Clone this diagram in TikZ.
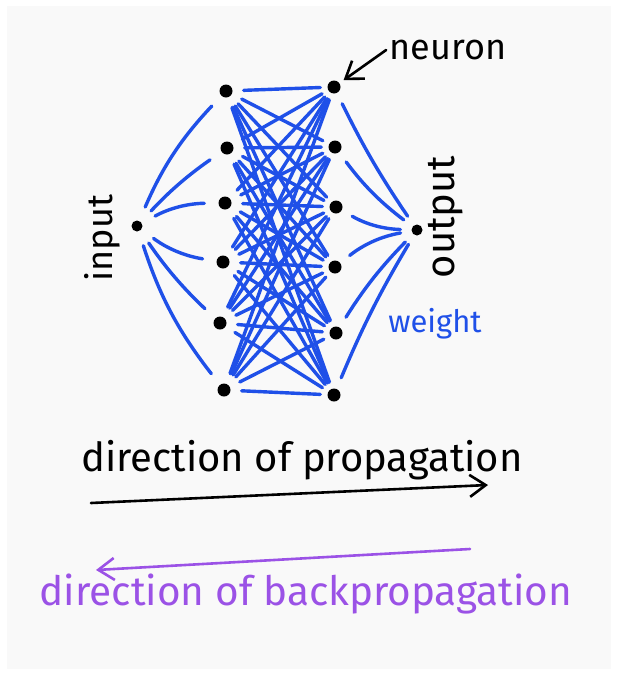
\documentclass[tikz,border=0pt]{standalone}
\usepackage{fontspec}
\setmainfont{Fira Sans}
\usetikzlibrary{arrows.meta,positioning}
\definecolor{pen}{RGB}{31,80,232}
\definecolor{backpen}{RGB}{155,82,230}
\definecolor{paper}{RGB}{249,249,249}
\newcommand{\handsize}[1]{\fontsize{#1}{#1}\selectfont}
\tikzset{
  neuron/.style={circle,fill=black,inner sep=0pt,minimum size=13pt},
  weight/.style={pen,line width=3.4pt,line cap=round},
  barb/.style={-{Straight Barb[length=16pt,width=22pt,line width=2.6pt]},line width=2.6pt,line cap=round}
}

\begin{document}
\begin{tikzpicture}[x=1pt,y=-1pt]

  % the sheet
  \useasboundingbox (0,0) rectangle (617,675);
  \fill[paper] (7,6) rectangle (611,669);

  % Input and output neurons
  \node[neuron,minimum size=11pt] (in) at (137,226) {};
  \node[neuron,minimum size=11pt] (out) at (417,230) {};

  % The two hidden layers
  \foreach \i/\x/\y in {1/226/91,2/227/148,3/225/203,4/223/262,5/220/323,6/224/390}
    \node[neuron] (a\i) at (\x,\y) {};
  \foreach \i/\x/\y in {1/334/87,2/335/147,3/336/207,4/335/267,5/336/333,6/334/395}
    \node[neuron] (b\i) at (\x,\y) {};

  % Weights
  \foreach \i/\b in {1/10,2/6,3/14,4/-14,5/-6,6/-10}
    \draw[weight,shorten <=15pt,shorten >=14pt] (in) to[bend left=\b] (a\i);
  \foreach \i/\b in {1/-4,2/-8,3/-14,4/14,5/6,6/4}
    \draw[weight,shorten <=12pt,shorten >=11pt] (b\i) to[bend left=\b] (out);
  \foreach \i in {1,...,6}
    \foreach \j in {1,...,6}
      \draw[weight,shorten <=11pt,shorten >=7pt] (a\i) -- (b\j);

  % Labels
  \node[rotate=90,font=\handsize{36}] (inlabel) at (102,238) {input};
  \node[rotate=90,font=\handsize{40}] (outlabel) at (446,217) {output};
  \node[font=\handsize{36}] (neuronlabel) at (448,50) {neuron};
  \node[pen,font=\handsize{31}] (weightlabel) at (435,324) {weight};
  \draw[barb,shorten >=5pt] (neuronlabel.west) -- (b1);

  % Directions
  \node[font=\handsize{40}] (fwdtext) at (302,460) {direction of propagation};
  \coordinate (fwdstart) at (91,503);
  \coordinate (fwdend) at (488,485);
  \draw[barb] (fwdstart) -- (fwdend);

  \coordinate (backstart) at (470,549);
  \coordinate (backend) at (96,570);
  \draw[barb,backpen] (backstart) -- (backend);
  \node[backpen,font=\handsize{40.5}] (backtext) at (306,594) {direction of backpropagation};

\end{tikzpicture}
\end{document}
